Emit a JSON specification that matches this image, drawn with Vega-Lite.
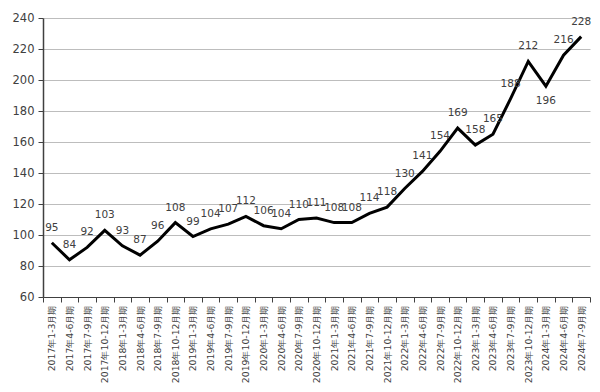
{
  "$schema": "https://vega.github.io/schema/vega-lite/v6.json",
  "width": 547,
  "height": 279,
  "autosize": {"type": "none"},
  "padding": {"left": 43, "top": 18, "right": 10, "bottom": 95},
  "background": "white",
  "config": {
    "font": "DejaVu Sans",
    "view": {"stroke": null},
    "axis": {"labelColor": "#404040", "labelFont": "DejaVu Sans", "domainColor": "#404040", "tickColor": "#404040"}
  },
  "data": {
    "values": [
      {"q": "2017年1-3月期", "v": 95},
      {"q": "2017年4-6月期", "v": 84},
      {"q": "2017年7-9月期", "v": 92},
      {"q": "2017年10-12月期", "v": 103},
      {"q": "2018年1-3月期", "v": 93},
      {"q": "2018年4-6月期", "v": 87},
      {"q": "2018年7-9月期", "v": 96},
      {"q": "2018年10-12月期", "v": 108},
      {"q": "2019年1-3月期", "v": 99},
      {"q": "2019年4-6月期", "v": 104},
      {"q": "2019年7-9月期", "v": 107},
      {"q": "2019年10-12月期", "v": 112},
      {"q": "2020年1-3月期", "v": 106},
      {"q": "2020年4-6月期", "v": 104},
      {"q": "2020年7-9月期", "v": 110},
      {"q": "2020年10-12月期", "v": 111},
      {"q": "2021年1-3月期", "v": 108},
      {"q": "2021年4-6月期", "v": 108},
      {"q": "2021年7-9月期", "v": 114},
      {"q": "2021年10-12月期", "v": 118},
      {"q": "2022年1-3月期", "v": 130},
      {"q": "2022年4-6月期", "v": 141},
      {"q": "2022年7-9月期", "v": 154},
      {"q": "2022年10-12月期", "v": 169},
      {"q": "2023年1-3月期", "v": 158},
      {"q": "2023年4-6月期", "v": 165},
      {"q": "2023年7-9月期", "v": 188},
      {"q": "2023年10-12月期", "v": 212},
      {"q": "2024年1-3月期", "v": 196},
      {"q": "2024年4-6月期", "v": 216},
      {"q": "2024年7-9月期", "v": 228}
    ]
  },
  "encoding": {
    "x": {
      "field": "q", "type": "ordinal", "sort": null, "title": null,
      "scale": {"paddingInner": 0, "paddingOuter": 0},
      "axis": {"labelAngle": -90, "labelFontSize": 9.3, "labelLimit": 95, "tickBand": "extent", "tickSize": 5, "labelPadding": 3, "domainWidth": 1}
    },
    "y": {
      "field": "v", "type": "quantitative", "title": null,
      "scale": {"domain": [60, 240], "nice": false, "zero": false},
      "axis": {"values": [60, 80, 100, 120, 140, 160, 180, 200, 220, 240], "labelFontSize": 11.5, "tickSize": 5, "labelPadding": 4, "gridColor": "#bdbdbd", "gridWidth": 1, "domainWidth": 1.5}
    }
  },
  "layer": [
    {"mark": {"type": "line", "color": "black", "strokeWidth": 3, "strokeJoin": "miter"}},
    {
      "transform": [{"filter": "datum.q !== '2024年1-3月期'"}],
      "mark": {"type": "text", "dy": -15, "fontSize": 10.5, "color": "#404040"},
      "encoding": {"text": {"field": "v", "type": "quantitative"}}
    },
    {
      "transform": [{"filter": "datum.q === '2024年1-3月期'"}],
      "mark": {"type": "text", "dy": 15, "fontSize": 10.5, "color": "#404040"},
      "encoding": {"text": {"field": "v", "type": "quantitative"}}
    }
  ]
}
